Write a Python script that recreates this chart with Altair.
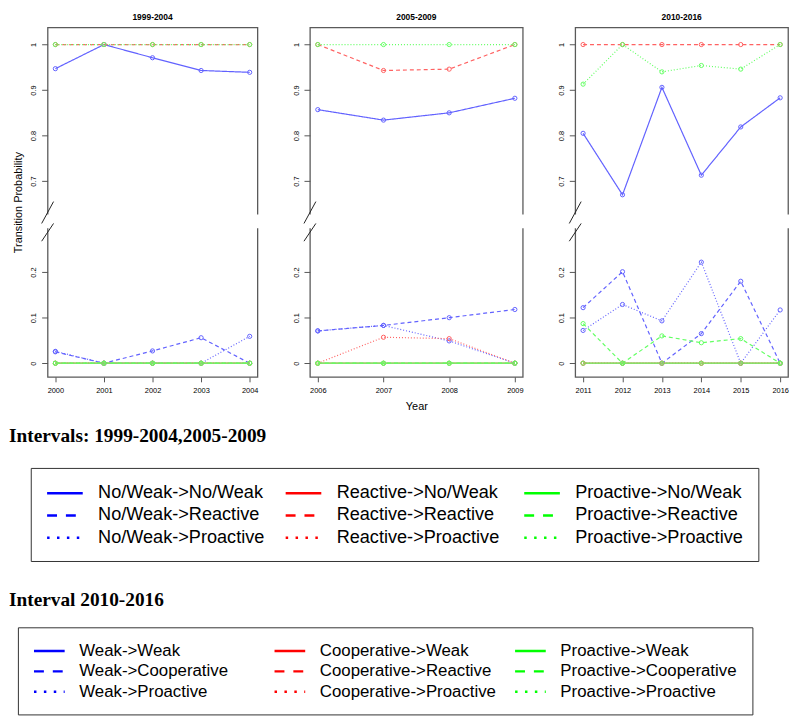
import altair as alt
import pandas as pd

# ---------------- data ----------------
years_a = [2000, 2001, 2002, 2003, 2004]
years_b = [2006, 2007, 2008, 2009]
years_c = [2011, 2012, 2013, 2014, 2015, 2016]

labels_ab = ["No/Weak->No/Weak", "No/Weak->Reactive", "No/Weak->Proactive",
             "Reactive->No/Weak", "Reactive->Reactive", "Reactive->Proactive",
             "Proactive->No/Weak", "Proactive->Reactive", "Proactive->Proactive"]
labels_c = ["Weak->Weak", "Weak->Cooperative", "Weak->Proactive",
            "Cooperative->Weak", "Cooperative->Reactive", "Cooperative->Proactive",
            "Proactive->Weak", "Proactive->Cooperative", "Proactive->Proactive"]

panel_titles = ["1999-2004", "2005-2009", "2010-2016"]
headers = ["Intervals: 1999-2004,2005-2009", "Interval 2010-2016"]

# 1999-2004
a_nw_nw = [0.947, 1.000, 0.971, 0.943, 0.939]
a_nw_re = [0.025, 0.000, 0.027, 0.056, 0.000]
a_nw_pr = [0.026, 0.000, 0.000, 0.000, 0.059]
a_re_nw = [0.000, 0.000, 0.000, 0.000, 0.000]
a_re_re = [1.000, 1.000, 1.000, 1.000, 1.000]
a_re_pr = [0.000, 0.000, 0.000, 0.000, 0.000]
a_pr_nw = [0.000, 0.000, 0.000, 0.000, 0.000]
a_pr_re = [0.000, 0.000, 0.000, 0.000, 0.000]
a_pr_pr = [1.000, 1.000, 1.000, 1.000, 1.000]

# 2005-2009
b_nw_nw = [0.857, 0.834, 0.850, 0.882]
b_nw_re = [0.071, 0.083, 0.100, 0.118]
b_nw_pr = [0.071, 0.083, 0.049, 0.000]
b_re_nw = [0.000, 0.000, 0.000, 0.000]
b_re_re = [1.000, 0.943, 0.946, 1.000]
b_re_pr = [0.000, 0.057, 0.054, 0.000]
b_pr_nw = [0.000, 0.000, 0.000, 0.000]
b_pr_re = [0.000, 0.000, 0.000, 0.000]
b_pr_pr = [1.000, 1.000, 1.000, 1.000]

# 2010-2016
c_w_w = [0.805, 0.670, 0.906, 0.713, 0.819, 0.883]
c_w_c = [0.122, 0.201, 0.000, 0.065, 0.180, 0.000]
c_w_p = [0.072, 0.129, 0.093, 0.222, 0.000, 0.117]
c_c_w = [0.000, 0.000, 0.000, 0.000, 0.000, 0.000]
c_c_r = [1.000, 1.000, 1.000, 1.000, 1.000, 1.000]
c_c_p = [0.000, 0.000, 0.000, 0.000, 0.000, 0.000]
c_p_w = [0.000, 0.000, 0.000, 0.000, 0.000, 0.000]
c_p_c = [0.087, 0.000, 0.060, 0.045, 0.054, 0.000]
c_p_p = [0.913, 1.000, 0.940, 0.954, 0.946, 1.000]

# ---------------- styles ----------------
legend_colors = ["#0000ff", "#0000ff", "#0000ff",
                 "#ff0000", "#ff0000", "#ff0000",
                 "#00ff00", "#00ff00", "#00ff00"]
plot_colors = ["#6262ff", "#6262ff", "#6262ff",
               "#ff6262", "#ff6262", "#ff6262",
               "#62ff62", "#62ff62", "#62ff62"]
plot_dashes = [[1, 0], [4, 3], [1, 2]] * 3
legend_dashes = [[1, 0], [10, 9], [2.5, 7.5]] * 3

FONT = "Liberation Sans"
SHIFT = 0.3                      # amount removed by the axis break
Y_DOMAIN = [-0.03, 0.7376]       # in "display" units
TICKS = [0, 0.1, 0.2, 0.4, 0.5, 0.6, 0.7]
LABEL_EXPR = ("datum.value > 0.3 ? format(datum.value + 0.3, '.1~f') "
              ": format(datum.value, '.1~f')")
GAP = [0.2963, 0.3267]
SLASHES = [(0.307, 0.355), (0.268, 0.307)]


def legend_layer(labels, font_size, legend_x, legend_y, col_pad, sym_size, label_offset):
    leg = alt.Legend(orient="none", legendX=legend_x, legendY=legend_y, title=None,
                     columns=3, symbolType="M-1,0H3", symbolSize=sym_size,
                     symbolStrokeWidth=2.5, labelFontSize=font_size, labelFont=FONT,
                     labelColor="black", labelOffset=label_offset, labelLimit=500,
                     columnPadding=col_pad, rowPadding=3.5, padding=15,
                     strokeColor="#333", gridAlign="all")
    return alt.Chart(pd.DataFrame({"series": labels})).mark_line().encode(
        color=alt.Color("series:N", scale=alt.Scale(domain=labels, range=legend_colors),
                        legend=leg),
        strokeDash=alt.StrokeDash("series:N",
                                  scale=alt.Scale(domain=labels, range=legend_dashes),
                                  legend=leg))


def header_layer(text, y_px):
    return alt.Chart(pd.DataFrame({"h": [text]})).mark_text(
        align="left", baseline="alphabetic", font="Liberation Serif",
        fontSize=19.5, fontWeight="bold", color="black").encode(
        text="h:N", x=alt.value(-39), y=alt.value(y_px))


def make_panel(years, values, labels, title, width, ytitle, xtitle, extra=()):
    rows = []
    for lab, vals in zip(labels, values):
        for yr, v in zip(years, vals):
            rows.append({"series": lab, "year": yr, "p": v})
    df = pd.DataFrame(rows)
    span = years[-1] - years[0]
    xscale = alt.Scale(domain=[years[0] - 0.04 * span, years[-1] + 0.04 * span],
                       nice=False, zero=False)
    yscale = alt.Scale(domain=Y_DOMAIN, nice=False, zero=False)
    y_axis = alt.Axis(values=TICKS, labelExpr=LABEL_EXPR, title=ytitle,
                      labelAngle=270, labelAlign="center",
                      labelBaseline="bottom", tickSize=6,
                      labelPadding=4, titlePadding=6)

    x_enc = alt.X("year:Q", scale=xscale,
                  axis=alt.Axis(values=years, format="d", title=xtitle,
                                tickSize=5, labelPadding=5, titlePadding=6))
    y_enc = alt.Y("yd:Q", scale=yscale, axis=y_axis)
    color = alt.Color("series:N", scale=alt.Scale(domain=labels, range=plot_colors),
                      legend=None)
    dash = alt.StrokeDash("series:N", scale=alt.Scale(domain=labels, range=plot_dashes),
                          legend=None)

    base = alt.Chart(df).transform_calculate(
        yd=f"datum.p > 0.45 ? datum.p - {SHIFT} : datum.p")

    lines = base.mark_line(strokeWidth=1.2).encode(
        x=x_enc, y=y_enc, color=color, strokeDash=dash)
    points = base.mark_point(shape="circle", filled=False, size=18,
                             strokeWidth=1, opacity=1).encode(
        x=x_enc, y=y_enc, color=color)

    gap = alt.Chart(pd.DataFrame({"yd": [GAP[0]], "g1": [GAP[1]]})).mark_rect(
        color="white").encode(
        y=alt.Y("yd:Q", scale=yscale, axis=y_axis), y2="g1:Q",
        x=alt.value(-3), x2=alt.value(width + 3))
    slash = alt.Chart(pd.DataFrame({"yd": [s[0] for s in SLASHES],
                                    "s1": [s[1] for s in SLASHES]})).mark_rule(
        color="#222", strokeWidth=1).encode(
        y=alt.Y("yd:Q", scale=yscale, axis=y_axis), y2="s1:Q",
        x=alt.value(-6), x2=alt.value(6))

    layered = alt.layer(lines, points, gap, slash, *extra)
    if extra:
        layered = layered.resolve_scale(color="independent", strokeDash="independent")
    return layered.properties(
        width=width, height=353,
        title=alt.TitleParams(title, fontSize=8.5, fontWeight="bold", font=FONT,
                              frame="group", offset=6, color="black"))


extras = (
    legend_layer(labels_ab, 18.3, -17, 445, 14, 324, 32),
    legend_layer(labels_c, 17, -30, 606, 13, 240, 29),
    header_layer(headers[0], 419),
    header_layer(headers[1], 584),
)

p1 = make_panel(years_a, [a_nw_nw, a_nw_re, a_nw_pr, a_re_nw, a_re_re, a_re_pr,
                          a_pr_nw, a_pr_re, a_pr_pr],
                labels_ab, panel_titles[0], 212, "Transition Probability", None, extras)
p2 = make_panel(years_b, [b_nw_nw, b_nw_re, b_nw_pr, b_re_nw, b_re_re, b_re_pr,
                          b_pr_nw, b_pr_re, b_pr_pr],
                labels_ab, panel_titles[1], 215, None, "Year")
p3 = make_panel(years_c, [c_w_w, c_w_c, c_w_p, c_c_w, c_c_r, c_c_p,
                          c_p_w, c_p_c, c_p_p],
                labels_c, panel_titles[2], 215, None, None)

chart = alt.hconcat(p1, p2, p3, spacing=53, bounds="flush").resolve_scale(
    color="independent", strokeDash="independent", x="independent", y="independent"
).properties(
    padding={"left": 0, "top": 0, "right": 0, "bottom": 0}
).configure_view(
    stroke="#5a5a5a", strokeWidth=1.3
).configure_axis(
    labelFont=FONT, labelFontSize=7.5, labelColor="black",
    titleFont=FONT, titleFontSize=11, titleFontWeight="normal", titleColor="black",
    tickColor="#555", tickWidth=1, domain=False, grid=False
)

chart.save("out.html", embed_options={"renderer": "svg", "actions": False})
